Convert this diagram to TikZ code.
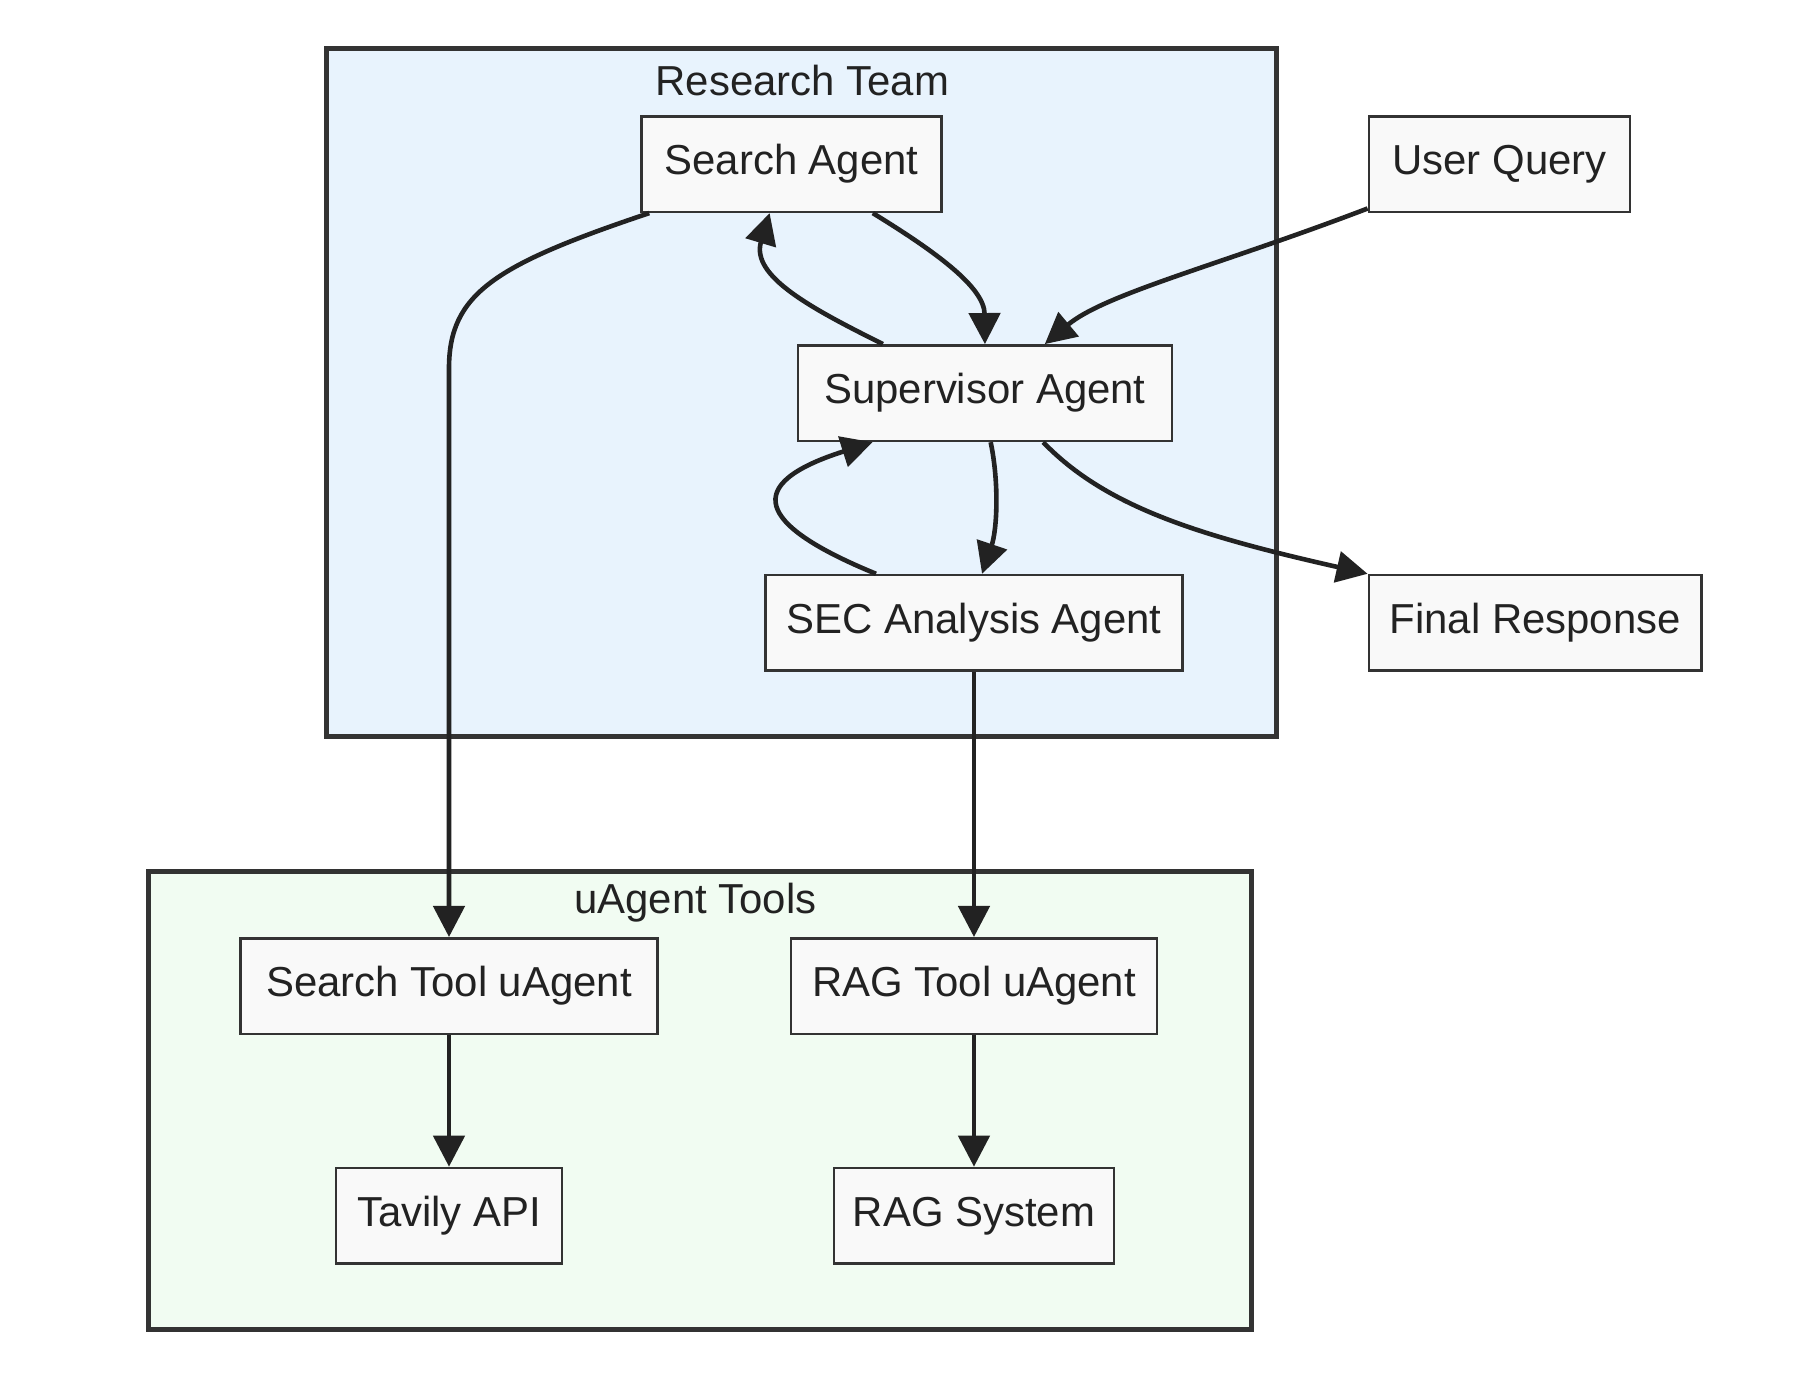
\documentclass[tikz,border=0pt]{standalone}
\usepackage{fontspec}
\setmainfont{Liberation Sans}
\usetikzlibrary{arrows.meta,calc}

\definecolor{teamblue}{HTML}{E8F3FD}
\definecolor{toolgreen}{HTML}{F1FCF2}
\definecolor{boxfill}{HTML}{F9F9F9}
\definecolor{boxline}{HTML}{333333}
\definecolor{edgeline}{HTML}{222222}

\tikzset{
  agent/.style={draw=boxline, fill=boxfill, line width=1.1pt, minimum height=41.5pt,
    minimum width=#1*0.5pt, inner xsep=0pt, text=edgeline, font=\fontsize{18.2}{22}\selectfont},
  cluster/.style={draw=boxline, line width=2.2pt},
  clustertitle/.style={inner sep=0pt, text=edgeline, font=\fontsize{18.2}{22}\selectfont},
  flow/.style={draw=edgeline, line width=2pt, -{Triangle[length=13.5pt,width=13.5pt]}},
}

\begin{document}
\begin{tikzpicture}[x=0.5pt,y=0.5pt,yscale=-1,xscale=1]
\useasboundingbox (0,0) rectangle (1560,1193);

%Shape: Research Team
\draw[cluster, fill=teamblue] (284,42) rectangle (1109,640);
%Shape: uAgent Tools
\draw[cluster, fill=toolgreen] (129,757) rectangle (1087,1155);

% Text Node
\node[clustertitle] (teamtitle) at (697,70) {Research Team};
% Text Node
\node[clustertitle] (tooltitle) at (604,784) {uAgent Tools};

% Agents
\node[agent=261] (sa) at (687.5,142.5) {Search Agent};
\node[agent=227] (uq) at (1302.5,142.5) {User Query};
\node[agent=325] (sup) at (855.5,341.5) {Supervisor Agent};
\node[agent=362] (sec) at (846,541) {SEC Analysis Agent};
\node[agent=289] (fr) at (1333.5,541) {Final Response};
\node[agent=362] (stu) at (390,856.5) {Search Tool uAgent};
\node[agent=318] (rtu) at (846,856.5) {RAG Tool uAgent};
\node[agent=196] (tav) at (390,1056) {Tavily API};
\node[agent=243] (rag) at (846,1056) {RAG System};

% Connectors
\draw[flow] ($(sa.south west)+(8,0)$) .. controls (430,230) and (390,255) .. (390,320) -- (stu.north);
\draw[flow] ($(sa.south east)+(-61,0)$) .. controls (815,220) and (855,250) .. (sup.north);
\draw[flow] ($(sup.north west)+(75,0)$) .. controls (705,268) and (652,240) .. ($(sa.south)+(-19,0)$);
\draw[flow] ($(uq.south west)+(0,-4)$) .. controls (1060,230) and (960,255) .. ($(sup.north)+(52,0)$);
\draw[flow] ($(sup.south)+(5,0)$) .. controls (868,420) and (866,460) .. ($(sec.north)+(7,0)$);
\draw[flow] ($(sec.north west)+(97,0)$) .. controls (655,455) and (645,420) .. ($(sup.south west)+(66,0)$);
\draw[flow] ($(sup.south east)+(-113,0)$) .. controls (960,440) and (1040,465) .. (fr.north west);
\draw[flow] (sec.south) -- (rtu.north);
\draw[flow] (stu.south) -- (tav.north);
\draw[flow] (rtu.south) -- (rag.north);

\end{tikzpicture}
\end{document}
